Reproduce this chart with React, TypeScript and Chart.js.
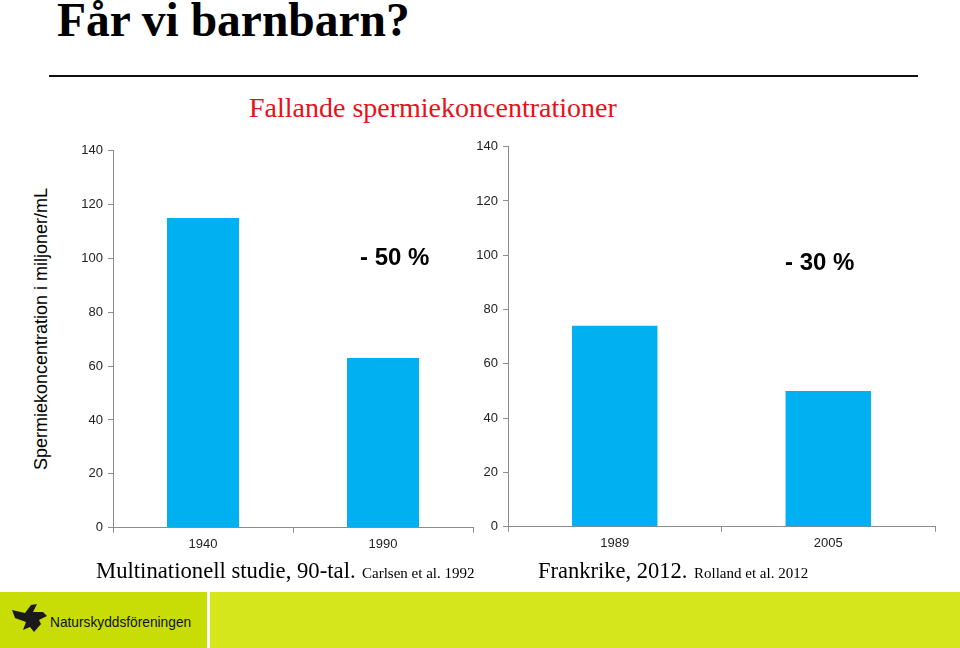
import React, { useEffect, useRef } from "react";
import { Chart, registerables } from "chart.js";

Chart.register(...registerables);

// ---- data ----
const leftCategories = ["1940", "1990"];
const leftValues = [115, 63];
const rightCategories = ["1989", "2005"];
const rightValues = [74, 50];
const yMin = 0;
const yMax = 140;
const yStep = 20;

const BAR_COLOR = "#00b0f0";
const AXIS_COLOR = "#8c8c8c";
const TICK_COLOR = "#222222";

type PanelProps = {
  labels: string[];
  values: number[];
  left: number;
  top: number;
  width: number;
  height: number;
  padTop: number;
  padRight: number;
  yWidth: number;
  xHeight: number;
};

function BarPanel(p: PanelProps) {
  const ref = useRef<HTMLCanvasElement | null>(null);
  useEffect(() => {
    if (!ref.current) return;
    const tickFont = { family: "'Liberation Sans', Arial, sans-serif", size: 13 };
    const chart = new Chart(ref.current, {
      type: "bar",
      data: {
        labels: p.labels,
        datasets: [
          {
            data: p.values,
            backgroundColor: BAR_COLOR,
            borderWidth: 0,
            categoryPercentage: 1,
            barPercentage: 0.4,
          },
        ],
      },
      options: {
        responsive: false,
        animation: false,
        layout: { padding: { top: p.padTop, right: p.padRight, bottom: 0, left: 0 } },
        plugins: {
          legend: { display: false },
          tooltip: { enabled: false },
          title: { display: false },
        },
        scales: {
          x: {
            offset: true,
            grid: {
              display: true,
              drawOnChartArea: false,
              drawTicks: true,
              tickLength: 5,
              color: AXIS_COLOR,
              offset: true,
            },
            border: { display: true, color: AXIS_COLOR, width: 1 },
            ticks: { color: TICK_COLOR, font: tickFont, padding: 4, maxRotation: 0 },
            afterFit: (s: any) => {
              s.height = p.xHeight;
            },
          },
          y: {
            min: yMin,
            max: yMax,
            ticks: { stepSize: yStep, color: TICK_COLOR, font: tickFont, padding: 5 },
            grid: {
              display: true,
              drawOnChartArea: false,
              drawTicks: true,
              tickLength: 5,
              color: AXIS_COLOR,
            },
            border: { display: true, color: AXIS_COLOR, width: 1 },
            afterFit: (s: any) => {
              s.width = p.yWidth;
            },
          },
        },
      },
    } as any);
    return () => chart.destroy();
  }, []);
  return (
    <canvas
      ref={ref}
      width={p.width}
      height={p.height}
      style={{ position: "absolute", left: p.left, top: p.top, width: p.width, height: p.height }}
    />
  );
}

const serif = "'Liberation Serif', 'Times New Roman', serif";
const sans = "'Liberation Sans', Arial, sans-serif";

function Txt(props: {
  left: number;
  top: number;
  size: number;
  family: string;
  color?: string;
  bold?: boolean;
  children: React.ReactNode;
  style?: React.CSSProperties;
}) {
  return (
    <div
      style={{
        position: "absolute",
        left: props.left,
        top: props.top,
        fontSize: props.size,
        lineHeight: props.size + "px",
        fontFamily: props.family,
        color: props.color || "#000",
        fontWeight: props.bold ? "bold" : "normal",
        whiteSpace: "nowrap",
        ...(props.style || {}),
      }}
    >
      {props.children}
    </div>
  );
}

export default function App() {
  return (
    <div
      style={{
        position: "fixed",
        left: 0,
        top: 0,
        width: 960,
        height: 648,
        background: "#ffffff",
        overflow: "hidden",
      }}
    >
      {/* title */}
      <Txt left={57} top={-3.5} size={47.5} family={serif} bold>
        Får vi barnbarn?
      </Txt>
      {/* rule */}
      <div style={{ position: "absolute", left: 49, top: 75, width: 869, height: 2, background: "#111" }} />
      {/* subtitle */}
      <Txt left={249} top={93.5} size={28} family={serif} color="#e8101a">
        Fallande spermiekoncentrationer
      </Txt>

      {/* y-axis title */}
      <div
        style={{
          position: "absolute",
          left: 41,
          top: 329,
          transform: "translate(-50%, -50%) rotate(-90deg)",
          fontFamily: sans,
          fontSize: 18,
          lineHeight: "18px",
          whiteSpace: "nowrap",
          color: "#000",
        }}
      >
        Spermiekoncentration i miljoner/mL
      </div>

      <BarPanel
        labels={leftCategories}
        values={leftValues}
        left={0}
        top={130}
        width={480}
        height={440}
        padTop={20.7}
        padRight={7}
        yWidth={113}
        xHeight={42.3}
      />
      <BarPanel
        labels={rightCategories}
        values={rightValues}
        left={470}
        top={126}
        width={490}
        height={444}
        padTop={20.7}
        padRight={25}
        yWidth={38}
        xHeight={43.3}
      />

      {/* change annotations */}
      <Txt left={360} top={244.7} size={24} family={sans} bold>
        - 50 %
      </Txt>
      <Txt left={785} top={249.7} size={24} family={sans} bold>
        - 30 %
      </Txt>

      {/* sources */}
      <Txt left={96} top={560} size={22.7} family={serif}>
        Multinationell studie, 90-tal.
      </Txt>
      <Txt left={362} top={566.4} size={15} family={serif}>
        Carlsen et al. 1992
      </Txt>
      <Txt left={538} top={560.2} size={22.5} family={serif}>
        Frankrike, 2012.
      </Txt>
      <Txt left={694} top={566.4} size={15} family={serif}>
        Rolland et al. 2012
      </Txt>

      {/* footer */}
      <div style={{ position: "absolute", left: 0, top: 592, width: 207, height: 56, background: "#c8dd05" }} />
      <div style={{ position: "absolute", left: 210, top: 592, width: 750, height: 56, background: "#d5e61c" }} />
      <svg
        style={{ position: "absolute", left: 12, top: 603 }}
        width={36}
        height={32}
        viewBox="0 0 36 32"
      >
        <path
          d="M0,7 L13,10 L19,2 L25,1 L21,9 L31,9 L35,13 L27,17 L29,21 L22,29 L18,24 L11,27 L14,19 L3,15 Z"
          fill="#1a1a1a"
        />
      </svg>
      <Txt
        left={50}
        top={614}
        size={15}
        family={sans}
        color="#111"
        style={{ transform: "scaleX(0.915)", transformOrigin: "left center" }}
      >
        Naturskyddsföreningen
      </Txt>
    </div>
  );
}
